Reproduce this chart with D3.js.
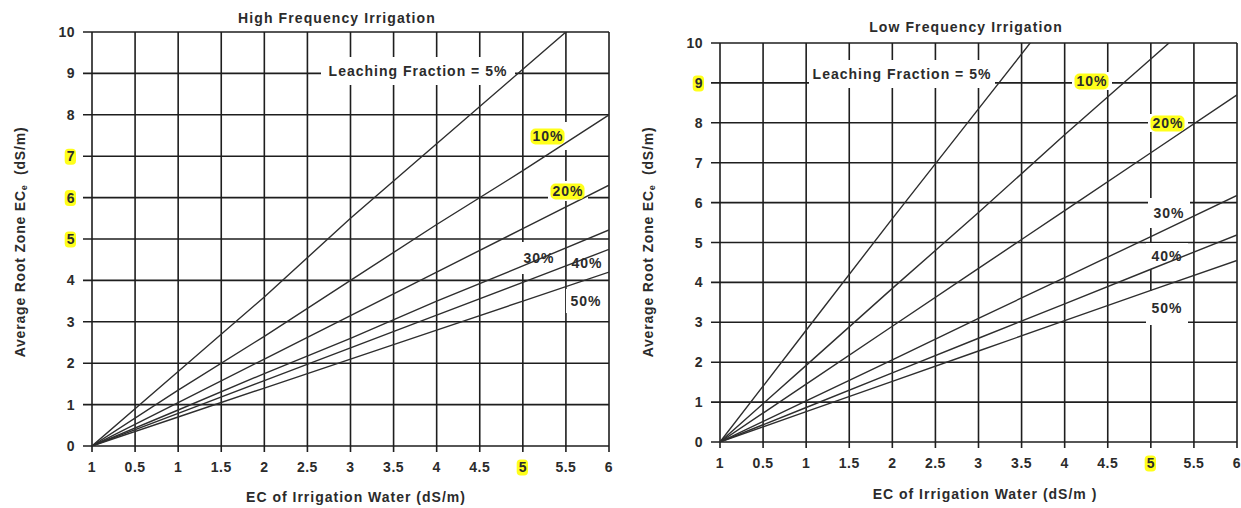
<!DOCTYPE html>
<html><head><meta charset="utf-8">
<script src="https://cdn.jsdelivr.net/npm/d3@7"></script>
<style>
html,body{margin:0;padding:0;background:#fff;}
svg text{font-family:"Liberation Sans",Arial,sans-serif;font-weight:bold;fill:#2b2b2b;}
</style></head>
<body><svg id="chart" width="1241" height="508"></svg>
<script>
// ---- data ----
const xValues = [0, 1, 2, 3, 4, 5, 6];
const xTicks = [0, 0.5, 1, 1.5, 2, 2.5, 3, 3.5, 4, 4.5, 5, 5.5, 6];
const xTickLabels = ["1", "0.5", "1", "1.5", "2", "2.5", "3", "3.5", "4", "4.5", "5", "5.5", "6"];
const yTicks = [0, 1, 2, 3, 4, 5, 6, 7, 8, 9, 10];
const seriesNames = ["5%", "10%", "20%", "30%", "40%", "50%"];

// High frequency irrigation: average root zone ECe at each ECw in xValues
const highLF5  = [0, 1.8, 3.6, 5.5, 7.3, 9.1, 10.9];
const highLF10 = [0, 1.35, 2.65, 4.0, 5.35, 6.65, 8.0];
const highLF20 = [0, 1.05, 2.1, 3.15, 4.2, 5.25, 6.3];
const highLF30 = [0, 0.87, 1.75, 2.6, 3.5, 4.35, 5.22];
const highLF40 = [0, 0.79, 1.58, 2.37, 3.16, 3.95, 4.75];
const highLF50 = [0, 0.7, 1.4, 2.1, 2.8, 3.5, 4.2];

// Low frequency irrigation
const lowLF5  = [0, 2.8, 5.6, 8.35, 11.1, 13.9, 16.7];
const lowLF10 = [0, 1.92, 3.85, 5.75, 7.7, 9.6, 11.5];
const lowLF20 = [0, 1.45, 2.9, 4.35, 5.8, 7.25, 8.7];
const lowLF30 = [0, 1.03, 2.06, 3.1, 4.12, 5.15, 6.18];
const lowLF40 = [0, 0.865, 1.73, 2.6, 3.46, 4.33, 5.19];
const lowLF50 = [0, 0.76, 1.52, 2.28, 3.04, 3.8, 4.55];

const highTitle = "High Frequency Irrigation";
const lowTitle = "Low Frequency Irrigation";
const xTitleHigh = "EC of Irrigation Water (dS/m)";
const xTitleLow = "EC of Irrigation Water (dS/m )";

// ---- layout ----
const panels = [
  {
    title: highTitle, xTitle: xTitleHigh,
    series: [highLF5, highLF10, highLF20, highLF30, highLF40, highLF50],
    left: 92, right: 609, top: 32, bottom: 446,
    titlePos: [337, 18], xTitlePos: [356, 497], yTitlePos: [20, 242],
    hlY: [5, 6, 7], hlX: [5],
    labels: [
      {text: "Leaching Fraction = 5%", x: 418, y: 71, w: 194, h: 28, hl: false},
      {text: "10%", x: 548, y: 136, w: 40, h: 28, hl: true},
      {text: "20%", x: 568, y: 191, w: 40, h: 20, hl: true},
      {text: "30%", x: 539, y: 258, w: 40, h: 32, hl: false},
      {text: "40%", x: 587, y: 263, w: 38, h: 22, hl: false},
      {text: "50%", x: 586, y: 301, w: 40, h: 24, hl: false}
    ]
  },
  {
    title: lowTitle, xTitle: xTitleLow,
    series: [lowLF5, lowLF10, lowLF20, lowLF30, lowLF40, lowLF50],
    left: 720, right: 1237, top: 43, bottom: 442,
    titlePos: [966, 27], xTitlePos: [985, 494], yTitlePos: [648, 242],
    hlY: [9], hlX: [5],
    labels: [
      {text: "Leaching Fraction = 5%", x: 902, y: 74, w: 186, h: 28, hl: false},
      {text: "10%", x: 1092, y: 81, w: 40, h: 18, hl: true},
      {text: "20%", x: 1168, y: 123, w: 40, h: 18, hl: true},
      {text: "30%", x: 1169, y: 213, w: 42, h: 30, hl: false},
      {text: "40%", x: 1167, y: 256, w: 42, h: 26, hl: false},
      {text: "50%", x: 1167, y: 308, w: 42, h: 34, hl: false}
    ]
  }
];

const svg = d3.select("#chart");
const gridColor = "#1e1e1e";
const lineColor = "#2e2e2e";
const yellow = "#ffff1a";
const LS = "0.9px";

function highlight(g, tx, rx) {
  const bb = tx.node().getBBox();
  g.insert("rect", () => tx.node()).attr("x", bb.x - 2).attr("y", bb.y + 0.5)
    .attr("width", bb.width + 3).attr("height", bb.height)
    .attr("rx", rx).attr("fill", yellow);
}

panels.forEach((p, pi) => {
  const x = d3.scaleLinear().domain([0, 6]).range([p.left, p.right]);
  const y = d3.scaleLinear().domain([0, 10]).range([p.bottom, p.top]);
  const g = svg.append("g");

  const clipId = "clip" + pi;
  svg.append("defs").append("clipPath").attr("id", clipId)
    .append("rect").attr("x", p.left).attr("y", p.top)
    .attr("width", p.right - p.left).attr("height", p.bottom - p.top);

  // horizontal grid lines + y ticks
  g.selectAll("line.h").data(yTicks).join("line")
    .attr("x1", p.left - 9).attr("x2", p.right)
    .attr("y1", d => y(d)).attr("y2", d => y(d))
    .attr("stroke", gridColor).attr("stroke-width", 1.6);
  // vertical grid lines + x ticks
  g.selectAll("line.v").data(xTicks).join("line")
    .attr("x1", d => x(d)).attr("x2", d => x(d))
    .attr("y1", p.top).attr("y2", p.bottom + 6)
    .attr("stroke", gridColor).attr("stroke-width", 1.6);

  // y tick labels
  yTicks.forEach(t => {
    const tx = g.append("text").attr("x", p.left - 17).attr("y", y(t))
      .attr("text-anchor", "end").attr("dominant-baseline", "central")
      .attr("font-size", 14).attr("letter-spacing", "0.5px").text(String(t));
    if (p.hlY.includes(t)) highlight(g, tx, 4);
  });
  // x tick labels
  xTicks.forEach((t, i) => {
    const tx = g.append("text").attr("x", x(t)).attr("y", p.bottom + 21)
      .attr("text-anchor", "middle").attr("dominant-baseline", "central")
      .attr("font-size", 14).attr("letter-spacing", "0.5px").text(xTickLabels[i]);
    if (p.hlX.includes(t)) highlight(g, tx, 4);
  });

  // label backgrounds (white boxes breaking grid)
  p.labels.forEach(l => {
    g.append("rect").attr("x", l.x - l.w / 2).attr("y", l.y - l.h / 2)
      .attr("width", l.w).attr("height", l.h).attr("fill", "#fff");
  });

  // series lines
  const line = d3.line().x((d, i) => x(xValues[i])).y(d => y(d));
  g.append("g").attr("clip-path", `url(#${clipId})`)
    .selectAll("path").data(p.series).join("path")
    .attr("d", line).attr("fill", "none")
    .attr("stroke", lineColor).attr("stroke-width", 1.4);

  // labels
  p.labels.forEach(l => {
    const tx = g.append("text").attr("x", l.x).attr("y", l.y)
      .attr("text-anchor", "middle").attr("dominant-baseline", "central")
      .attr("font-size", 14).attr("letter-spacing", "1px").text(l.text);
    if (l.hl) highlight(g, tx, 5);
  });

  // titles
  g.append("text").attr("x", p.titlePos[0]).attr("y", p.titlePos[1])
    .attr("text-anchor", "middle").attr("dominant-baseline", "central")
    .attr("font-size", 14).attr("letter-spacing", "1.1px").text(p.title);
  g.append("text").attr("x", p.xTitlePos[0]).attr("y", p.xTitlePos[1])
    .attr("text-anchor", "middle").attr("dominant-baseline", "central")
    .attr("font-size", 14).attr("letter-spacing", "1px").text(p.xTitle);
  const yt = g.append("text")
    .attr("transform", `translate(${p.yTitlePos[0]},${p.yTitlePos[1]}) rotate(-90)`)
    .attr("text-anchor", "middle").attr("dominant-baseline", "central")
    .attr("font-size", 14).attr("letter-spacing", "0.8px");
  yt.append("tspan").text("Average Root Zone EC");
  yt.append("tspan").attr("font-size", 9).attr("dy", 4).text("e");
  yt.append("tspan").attr("dy", -4).text("\u00a0\u00a0(dS/m)");
});
</script></body></html>
